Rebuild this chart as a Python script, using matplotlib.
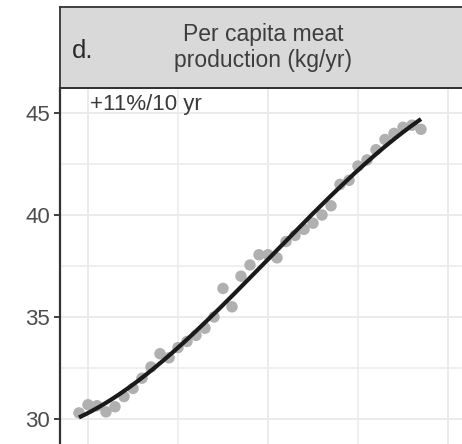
import numpy as np
import matplotlib
matplotlib.use("Agg")
import matplotlib.pyplot as plt
from matplotlib.ticker import MultipleLocator, FixedLocator

plt.rcParams['font.family'] = ['Liberation Sans', 'DejaVu Sans']

# ---- data ----
years = list(range(1979, 2018))
meat = [30.3, 30.7, 30.65, 30.35, 30.6, 31.1, 31.5, 32.0, 32.55, 33.2,
        33.0, 33.5, 33.8, 34.1, 34.45, 35.0, 36.4, 35.5, 37.0, 37.55,
        38.05, 38.05, 37.9, 38.7, 39.0, 39.3, 39.6, 40.0, 40.45, 41.5,
        41.7, 42.4, 42.7, 43.2, 43.7, 44.0, 44.3, 44.4, 44.2]
panel_label = "d."
strip_title = "Per capita meat\nproduction (kg/yr)"
trend_text = "+11%/10 yr"
y_ticks = [30, 35, 40, 45]

W, H = 462, 444
fig = plt.figure(figsize=(W / 100, H / 100), dpi=100)

# panel
left_px, right_px, top_px, bot_px = 60, 466, 88, 500
ax = fig.add_axes([left_px / W, 1 - bot_px / H, (right_px - left_px) / W, (bot_px - top_px) / H])
ppu = 20.4
ax.set_ylim(45 - (bot_px - 113) / ppu, 45 + (113 - top_px) / ppu)
ax.set_xlim(1980 - (88 - left_px) / 9, 1980 + (right_px - 88) / 9)

ax.yaxis.set_major_locator(FixedLocator(y_ticks))
ax.yaxis.set_minor_locator(MultipleLocator(2.5))
ax.xaxis.set_major_locator(MultipleLocator(20))
ax.xaxis.set_minor_locator(MultipleLocator(10))
ax.grid(which='major', color='#ebebeb', lw=1.4, zorder=0)
ax.grid(which='minor', color='#ebebeb', lw=1.1, zorder=0)
ax.set_axisbelow(True)

for s in ['right', 'bottom', 'top']:
    ax.spines[s].set_visible(False)
ax.spines['left'].set_color('#333333')
ax.spines['left'].set_linewidth(1.6)
ax.tick_params(axis='y', which='major', length=4, width=1.3, color='#333333',
               labelsize=16, labelcolor='#4d4d4d', pad=3)
ax.tick_params(axis='y', which='minor', length=0)
ax.tick_params(axis='x', which='both', length=0, labelbottom=False)

x = np.array(years, dtype=float)
y = np.array(meat)
ax.scatter(x, y, s=68, color='#b0b0b0', edgecolors='none', zorder=2)
coef = np.polyfit(x - x.mean(), y, 3)
xs = np.linspace(x.min(), x.max(), 200)
ax.plot(xs, np.polyval(coef, xs - x.mean()), color='#1a1a1a', lw=3.0, zorder=3,
        solid_capstyle='butt')

t = ax.text(0, 0, trend_text, transform=None, fontsize=16, color='#3a3a3a',
            va='center', ha='left')
t.set_position((90, H - 104))

# top border line of panel
fig.add_artist(plt.Line2D([left_px / W, right_px / W], [1 - top_px / H] * 2,
                          color='#333333', lw=1.3, transform=fig.transFigure))

# strip
sax = fig.add_axes([left_px / W, 1 - top_px / H, (right_px - left_px) / W, (top_px - 7) / H])
sax.set_facecolor('#d9d9d9')
sax.set_xticks([]); sax.set_yticks([])
for s in sax.spines.values():
    s.set_color('#333333'); s.set_linewidth(1.3)
sax.text(0.5, 0.5, strip_title, ha='center', va='center', fontsize=16.5,
         color='#3d3d3d', transform=sax.transAxes, linespacing=1.15)
sax.text(12 / (right_px - left_px), 0.46, panel_label, ha='left', va='center', fontsize=18.5,
         color='#2a2a2a', transform=sax.transAxes)

fig.savefig('out.png', dpi=100)
